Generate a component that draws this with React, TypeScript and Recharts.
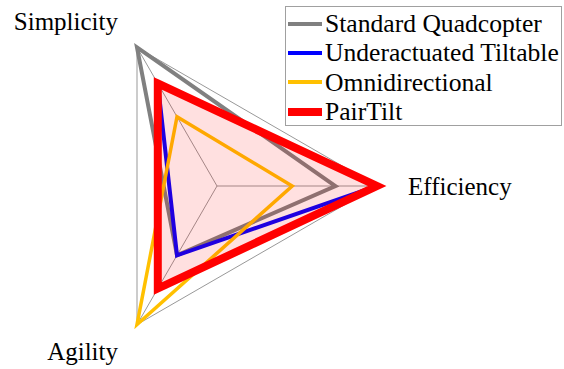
import React from 'react';
import { RadarChart, Radar, PolarGrid, PolarAngleAxis, PolarRadiusAxis, Legend } from 'recharts';

const categories = ['Simplicity', 'Efficiency', 'Agility'];
const standardQuadcopter = [1.0, 0.74, 0.5];
const underactuatedTiltable = [0.74, 1.0, 0.5];
const omnidirectional = [0.5, 0.47, 1.0];
const pairTilt = [0.74, 1.0, 0.74];

const seriesNames = ['Standard Quadcopter', 'Underactuated Tiltable', 'Omnidirectional', 'PairTilt'];
const seriesColors = ['#808080', '#0000ff', '#ffc000', '#ff0000'];
const seriesWidths = [4, 4, 3.5, 8];

const data = categories.map((c, i) => ({
  axis: c,
  s0: standardQuadcopter[i],
  s1: underactuatedTiltable[i],
  s2: omnidirectional[i],
  s3: pairTilt[i],
}));

const CX = 217;
const CY = 186;
const R = 160;
const FONT = '"Liberation Serif", "Times New Roman", serif';

const labelOffsets: Record<string, { dx: number; dy: number; anchor: 'start' | 'end' | 'middle' }> = {
  Efficiency: { dx: 31, dy: 9, anchor: 'start' },
  Simplicity: { dx: -19, dy: -17, anchor: 'end' },
  Agility: { dx: -19, dy: 35, anchor: 'end' },
};

const AngleTick = (props: any) => {
  const { payload, x, y } = props;
  const ddx = x - CX;
  const ddy = y - CY;
  const len = Math.sqrt(ddx * ddx + ddy * ddy) || 1;
  const vx = CX + (R * ddx) / len;
  const vy = CY + (R * ddy) / len;
  const o = labelOffsets[payload.value] || { dx: 0, dy: 0, anchor: 'middle' };
  return (
    <text x={vx + o.dx} y={vy + o.dy} textAnchor={o.anchor} fontFamily={FONT} fontSize={25} fill="#000">
      {payload.value}
    </text>
  );
};

const LegendContent = () => (
  <div
    style={{
      border: '1px solid #a0a0a0',
      background: '#fff',
      width: 277,
      height: 120,
      boxSizing: 'border-box',
      paddingTop: 2,
      fontFamily: FONT,
      fontSize: 25.6,
      color: '#000',
    }}
  >
    {seriesNames.map((n, i) => (
      <div key={n} style={{ display: 'flex', alignItems: 'center', height: 29.3, whiteSpace: 'nowrap' }}>
        <span
          style={{
            display: 'inline-block',
            width: 34,
            height: i === 3 ? 8 : 4,
            background: seriesColors[i],
            marginLeft: 2,
            marginRight: 3,
          }}
        />
        <span style={{ lineHeight: '29px' }}>{n}</span>
      </div>
    ))}
  </div>
);

export default function App() {
  return (
    <div style={{ position: 'absolute', left: 0, top: 0, width: 564, height: 369, background: '#fff' }}>
      <RadarChart
        width={564}
        height={369}
        data={data}
        cx={CX}
        cy={CY}
        outerRadius={R}
        startAngle={120}
        endAngle={-240}
        margin={{ top: 0, right: 0, bottom: 0, left: 0 }}
      >
        <PolarGrid gridType="polygon" stroke="#999999" strokeWidth={1} />
        <PolarRadiusAxis domain={[0, 1]} tickCount={5} tick={false} axisLine={false} />
        <PolarAngleAxis dataKey="axis" tick={AngleTick} tickLine={false} axisLine={false} />
        {seriesNames.map((n, i) => (
          <Radar
            key={n}
            name={n}
            dataKey={`s${i}`}
            stroke={seriesColors[i]}
            strokeWidth={seriesWidths[i]}
            fill={i === 3 ? '#ff0000' : 'none'}
            fillOpacity={i === 3 ? 0.12 : 0}
            isAnimationActive={false}
            dot={false}
          />
        ))}
        <Legend
          content={LegendContent}
          wrapperStyle={{ position: 'absolute', left: 285, top: 6, width: 277, height: 120 }}
        />
      </RadarChart>
    </div>
  );
}
